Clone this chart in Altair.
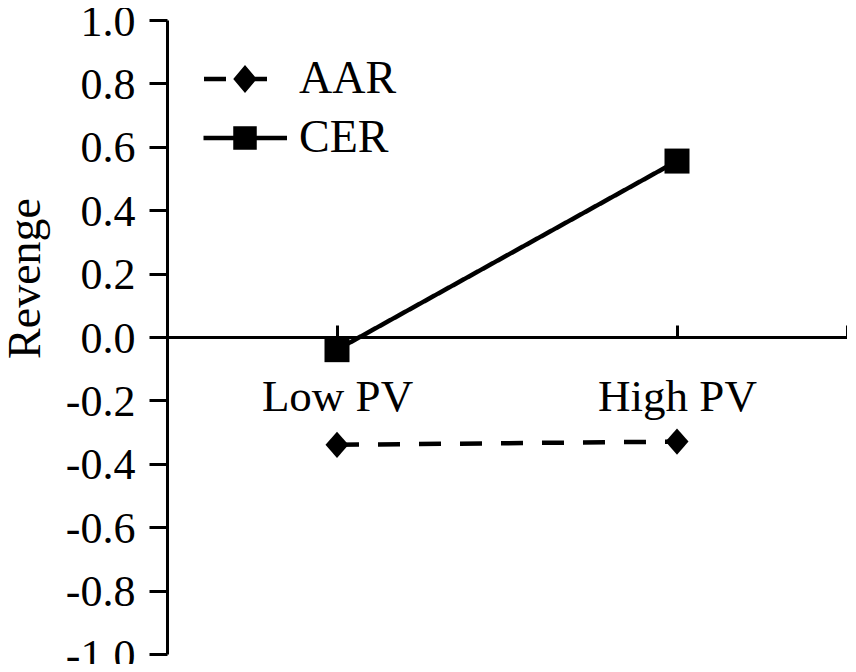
import altair as alt
import pandas as pd

categories = ["Low PV", "High PV"]
series_names = ["AAR", "CER"]
aar_values = [-0.34, -0.33]
cer_values = [-0.04, 0.555]
y_ticks = [-1.0, -0.8, -0.6, -0.4, -0.2, 0.0, 0.2, 0.4, 0.6, 0.8, 1.0]

rows = []
for name, vals in zip(series_names, [aar_values, cer_values]):
    for i, (c, v) in enumerate(zip(categories, vals)):
        rows.append({"series": name, "cond": c, "pos": i + 0.5, "value": v})
df = pd.DataFrame(rows)

cat_pos = [i + 0.5 for i in range(len(categories))]
label_expr = "''"
for p, c in reversed(list(zip(cat_pos, categories))):
    label_expr = f"datum.value == {p} ? '{c}' : ({label_expr})"

FONT = "Liberation Serif"
W, H = 680, 634

y_enc = alt.Y(
    "value:Q",
    scale=alt.Scale(domain=[-1, 1], nice=False),
    axis=alt.Axis(
        values=y_ticks,
        labelExpr="(datum.value < -0.001 ? '-' : '') + format(abs(datum.value), '.1f')",
        title="Revenge",
        titleFont=FONT,
        titleFontSize=46,
        titleFontWeight="normal",
        titleColor="black",
        titleAngle=270,
        titleX=-128,
        titleY=258,
        titleAlign="center",
        titleBaseline="alphabetic",
        labelFont=FONT,
        labelFontSize=44,
        labelColor="black",
        labelPadding=14,
        labelOffset=2,
        tickSize=18,
        tickWidth=3,
        tickColor="black",
        domainWidth=3,
        domainColor="black",
        grid=False,
    ),
)

x_scale = alt.Scale(domain=[0, len(categories)], nice=False)

lines = alt.Chart(df).mark_line(color="black", strokeWidth=4.5).encode(
    x=alt.X(
        "pos:Q",
        scale=x_scale,
        axis=alt.Axis(
            orient="top",
            offset=-H / 2,
            values=cat_pos + [len(categories)],
            labels=False,
            title=None,
            tickSize=12,
            tickWidth=3,
            tickColor="black",
            domainWidth=3,
            domainColor="black",
            grid=False,
        ),
    ),
    y=y_enc,
    strokeDash=alt.StrokeDash(
        "series:N",
        scale=alt.Scale(domain=series_names, range=[[22, 19], [1, 0]]),
        legend=None,
    ),
)

diamond_path = "M0,-1.05L0.92,0L0,1.05L-0.92,0Z"

points = alt.Chart(df).mark_point(filled=True, color="black", opacity=1).encode(
    x=alt.X(
        "pos:Q",
        scale=x_scale,
        axis=alt.Axis(
            orient="bottom",
            offset=-H / 2,
            values=cat_pos,
            labelExpr=label_expr,
            domain=False,
            ticks=False,
            tickSize=0,
            title=None,
            labelFont=FONT,
            labelFontSize=45,
            labelColor="black",
            labelPadding=73,
            labelBaseline="alphabetic",
            grid=False,
        ),
    ),
    y=y_enc,
    shape=alt.Shape(
        "series:N",
        scale=alt.Scale(domain=series_names, range=[diamond_path, "square"]),
        legend=None,
    ),
    size=alt.Size(
        "series:N",
        scale=alt.Scale(domain=series_names, range=[625, 625]),
        legend=None,
    ),
)

aar_sym = ("M-1.64,-0.09H-0.76V0.09H-1.64Z "
           "M0,-0.56L0.47,0L0,0.56L-0.47,0Z "
           "M0.4,-0.09H0.88V0.09H0.4Z")
cer_sym = ("M-1.66,-0.09H1.68V0.09H-1.66Z "
           "M-0.47,-0.47H0.47V0.47H-0.47Z")

legend_layer = alt.Chart(df).mark_point(
    filled=True, color="black", size=2500, opacity=1
).transform_filter("false").encode(
    x=alt.X("pos:Q", scale=x_scale, axis=None),
    y=y_enc,
    shape=alt.Shape(
        "series:N",
        scale=alt.Scale(domain=series_names, range=[aar_sym, cer_sym]),
        legend=alt.Legend(
            title=None,
            orient="none",
            legendX=53,
            legendY=34,
            symbolSize=2500,
            symbolFillColor="black",
            symbolStrokeWidth=0,
            symbolOpacity=1,
            labelFont=FONT,
            labelFontSize=46,
            labelColor="black",
            labelOffset=29,
            rowPadding=11,
            padding=0,
        ),
    ),
)

chart = alt.layer(lines, points, legend_layer).resolve_axis(
    x="independent"
).resolve_scale(
    shape="independent"
).properties(
    width=W,
    height=H,
    autosize="none",
    padding={"left": 159, "top": 12, "right": 0, "bottom": 10},
    background="white",
).configure_view(stroke=None)

chart.save("out.html", embed_options={"renderer": "svg", "actions": False})
